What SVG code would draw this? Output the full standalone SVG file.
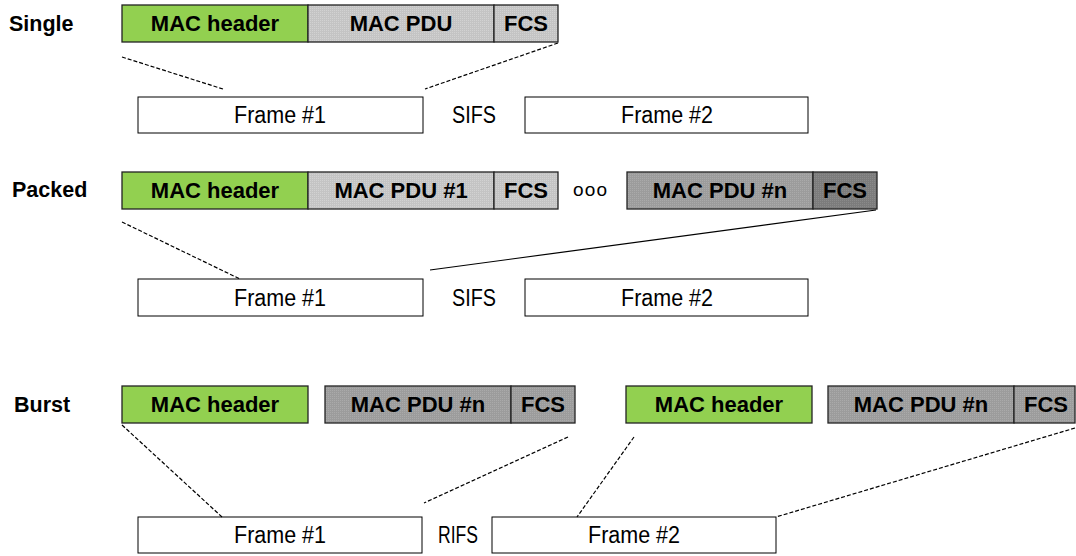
<svg xmlns="http://www.w3.org/2000/svg" width="1076" height="556" viewBox="0 0 1076 556">
<defs>
<pattern id="pLight" width="2" height="2" patternUnits="userSpaceOnUse">
<rect width="2" height="2" fill="#c4c4c4"/><rect width="1" height="1" fill="#d2d2d2"/>
</pattern>
<pattern id="pMid" width="2" height="2" patternUnits="userSpaceOnUse">
<rect width="2" height="2" fill="#9c9c9c"/><rect width="1" height="1" fill="#aaaaaa"/>
</pattern>
<pattern id="pDark" width="2" height="2" patternUnits="userSpaceOnUse">
<rect width="2" height="2" fill="#7c7c7c"/><rect width="1" height="1" fill="#8a8a8a"/>
</pattern>
<style>
.fld{stroke:#222;stroke-width:1.3}
.hdr{fill:#92d050}
.lt{fill:url(#pLight)}
.md{fill:url(#pMid)}
.dk{fill:url(#pDark)}
.frm{fill:#fff;stroke:#000;stroke-width:1}
.bl{font-family:"Liberation Sans",Arial,sans-serif;font-weight:bold;font-size:22px;fill:#000;text-anchor:middle}
.row{font-family:"Liberation Sans",Arial,sans-serif;font-weight:bold;font-size:21.5px;fill:#000}
.fl{font-family:"Liberation Sans",Arial,sans-serif;font-size:23px;fill:#000;text-anchor:middle}
.dash{stroke:#000;stroke-width:1.2;stroke-dasharray:4 2;fill:none}
.solid{stroke:#000;stroke-width:1.2;fill:none}
</style>
</defs>
<rect width="1076" height="556" fill="#fff"/>

<!-- Row labels -->
<g id="label-single"><text class="row" x="9" y="31">Single</text></g>
<g id="label-packed"><text class="row" x="12" y="197">Packed</text></g>
<g id="label-burst"><text class="row" x="14" y="412">Burst</text></g>

<!-- Single row -->
<g id="single-hdr"><rect class="fld hdr" x="122" y="5" width="186" height="37"/><text class="bl" x="215" y="31">MAC header</text></g>
<g id="single-pdu"><rect class="fld lt" x="308" y="5" width="186" height="37"/><text class="bl" x="401" y="31">MAC PDU</text></g>
<g id="single-fcs"><rect class="fld lt" x="494" y="5" width="64" height="37"/><text class="bl" x="526" y="31">FCS</text></g>
<g id="single-f1"><rect class="frm" x="138" y="97" width="285" height="36"/><text class="fl" x="280" y="123" textLength="92" lengthAdjust="spacingAndGlyphs">Frame #1</text></g>
<g id="single-sifs"><text class="fl" x="474" y="123" textLength="44" lengthAdjust="spacingAndGlyphs">SIFS</text></g>
<g id="single-f2"><rect class="frm" x="525" y="97" width="283" height="36"/><text class="fl" x="667" y="123" textLength="92" lengthAdjust="spacingAndGlyphs">Frame #2</text></g>

<!-- Packed row -->
<g id="packed-hdr"><rect class="fld hdr" x="122" y="172" width="186" height="37"/><text class="bl" x="215" y="198">MAC header</text></g>
<g id="packed-pdu1"><rect class="fld lt" x="308" y="172" width="186" height="37"/><text class="bl" x="401" y="198">MAC PDU #1</text></g>
<g id="packed-fcs1"><rect class="fld lt" x="494" y="172" width="64" height="37"/><text class="bl" x="526" y="198">FCS</text></g>
<g id="packed-ooo"><text x="590" y="196" font-family="Liberation Sans, Arial, sans-serif" font-size="19" text-anchor="middle" textLength="34" lengthAdjust="spacing">ooo</text></g>
<g id="packed-pdun"><rect class="fld md" x="627" y="172" width="186" height="37"/><text class="bl" x="720" y="198">MAC PDU #n</text></g>
<g id="packed-fcsn"><rect class="fld dk" x="813" y="172" width="64" height="37"/><text class="bl" x="845" y="198">FCS</text></g>
<g id="packed-f1"><rect class="frm" x="138" y="279" width="285" height="37"/><text class="fl" x="280" y="306" textLength="92" lengthAdjust="spacingAndGlyphs">Frame #1</text></g>
<g id="packed-sifs"><text class="fl" x="474" y="306" textLength="44" lengthAdjust="spacingAndGlyphs">SIFS</text></g>
<g id="packed-f2"><rect class="frm" x="525" y="279" width="283" height="37"/><text class="fl" x="667" y="306" textLength="92" lengthAdjust="spacingAndGlyphs">Frame #2</text></g>

<!-- Burst row -->
<g id="burst-hdr1"><rect class="fld hdr" x="122" y="386" width="186" height="37"/><text class="bl" x="215" y="412">MAC header</text></g>
<g id="burst-pdu1"><rect class="fld md" x="325" y="386" width="186" height="37"/><text class="bl" x="418" y="412">MAC PDU #n</text></g>
<g id="burst-fcs1"><rect class="fld md" x="511" y="386" width="64" height="37"/><text class="bl" x="543" y="412">FCS</text></g>
<g id="burst-hdr2"><rect class="fld hdr" x="626" y="386" width="186" height="37"/><text class="bl" x="719" y="412">MAC header</text></g>
<g id="burst-pdu2"><rect class="fld md" x="828" y="386" width="186" height="37"/><text class="bl" x="921" y="412">MAC PDU #n</text></g>
<g id="burst-fcs2"><rect class="fld md" x="1014" y="386" width="61" height="37"/><text class="bl" x="1046" y="412">FCS</text></g>
<g id="burst-f1"><rect class="frm" x="138" y="517" width="284" height="36"/><text class="fl" x="280" y="543" textLength="92" lengthAdjust="spacingAndGlyphs">Frame #1</text></g>
<g id="burst-rifs"><text class="fl" x="458" y="543" textLength="40" lengthAdjust="spacingAndGlyphs">RIFS</text></g>
<g id="burst-f2"><rect class="frm" x="492" y="517" width="284" height="36"/><text class="fl" x="634" y="543" textLength="92" lengthAdjust="spacingAndGlyphs">Frame #2</text></g>

<!-- Connectors -->
<g id="connectors">
<line class="dash" x1="122" y1="57" x2="223" y2="89"/>
<line class="dash" x1="558" y1="43" x2="425" y2="89"/>
<line class="dash" x1="122" y1="222" x2="240" y2="279"/>
<line class="solid" x1="876" y1="210" x2="430" y2="270"/>
<line class="dash" x1="122" y1="425" x2="222" y2="517"/>
<line class="dash" x1="568" y1="437" x2="424" y2="503"/>
<line class="dash" x1="634" y1="437" x2="577" y2="517"/>
<line class="dash" x1="1075" y1="428" x2="776" y2="517"/>
</g>
</svg>
